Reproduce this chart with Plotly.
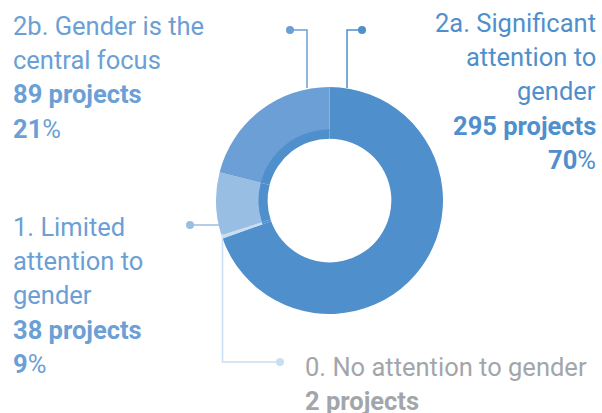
import plotly.graph_objects as go

# Gender marker categories, in drawing order (clockwise from 12 o'clock)
categories = [
    "2a. Significant attention to gender",
    "0. No attention to gender",
    "1. Limited attention to gender",
    "2b. Gender is the central focus",
]
projects = [295, 2, 38, 89]
percents = [70, 0, 9, 21]

W, H = 602, 413
MAIN = "#4f8fcc"
slice_colors = [MAIN, "#cadef2", "#98bee4", "#6b9fd5"]
FONT = "Roboto"
LINE_H = 34.2


def px(x):
    return x / W


def py(y):
    return 1 - y / H


# donut geometry in pixels
cx, cy = 329.5, 200.5
r_out, r_mid, r_in = 113.5, 70.0, 61.0


def domain(r):
    return dict(x=[px(cx - r), px(cx + r)], y=[py(cy + r), py(cy - r)])


fig = go.Figure()

fig.add_trace(go.Pie(
    labels=categories, values=projects,
    marker=dict(colors=slice_colors, line=dict(width=0)),
    hole=r_mid / r_out, domain=domain(r_out),
    direction="clockwise", rotation=0, sort=False,
    textinfo="none", showlegend=False,
    hovertemplate="%{label}<br>%{value} projects<extra></extra>",
))

# thin inner ring in the main colour
fig.add_trace(go.Pie(
    labels=categories, values=projects,
    marker=dict(colors=[MAIN] * len(projects), line=dict(width=0)),
    hole=r_in / r_mid, domain=domain(r_mid + 1),
    direction="clockwise", rotation=0, sort=False,
    textinfo="none", showlegend=False, hoverinfo="skip",
))

# leader lines: (points, dot position, colour)
leaders = [
    ([(290, 30), (307, 30), (307, 88)], (290, 30), "#6b9fd5"),
    ([(362, 30), (347, 30), (347, 88)], (362, 30), MAIN),
    ([(190, 225), (219, 225)], (190, 225), "#98bee4"),
    ([(222.5, 234), (222.5, 362), (280, 362)], (280, 362), "#cadef2"),
]

shapes = []
for pts, dot, col in leaders:
    path = "M " + " L ".join(f"{px(x)},{py(y)}" for x, y in pts)
    shapes.append(dict(type="path", xref="paper", yref="paper", path=path,
                       line=dict(color=col, width=1.5)))
    r = 4
    shapes.append(dict(type="circle", xref="paper", yref="paper",
                       x0=px(dot[0] - r), x1=px(dot[0] + r),
                       y0=py(dot[1] + r), y1=py(dot[1] - r),
                       fillcolor=col, line=dict(width=0)))

label_text = [
    "2a. Significant<br>attention to<br>gender<br><b>%d projects</b><br><b>%d</b>%%",
    "0. No attention to gender<br><b>%d projects</b>",
    "1. Limited<br>attention to<br>gender<br><b>%d projects</b><br><b>%d</b>%%",
    "2b. Gender is the<br>central focus<br><b>%d projects</b><br><b>%d</b>%%",
]
label_pos = [
    (598, 6, "right", MAIN),
    (303, 350, "left", "#a2a6ab"),
    (11, 210, "left", "#6b9fd5"),
    (11, 9, "left", "#6b9fd5"),
]

annotations = []
for i, (x, y, align, col) in enumerate(label_pos):
    if categories[i].startswith("0."):
        txt = label_text[i] % projects[i]
    else:
        txt = label_text[i] % (projects[i], percents[i])
    # one annotation per line so the line spacing can follow the original
    for k, line in enumerate(txt.split("<br>")):
        annotations.append(dict(
            x=px(x), y=py(y + k * LINE_H), xref="paper", yref="paper",
            xanchor=align, yanchor="top", align=align,
            text=line, showarrow=False,
            font=dict(family=FONT, size=25.5, color=col),
        ))

fig.update_layout(
    width=W, height=H,
    margin=dict(l=0, r=0, t=0, b=0),
    paper_bgcolor="white", plot_bgcolor="white",
    shapes=shapes, annotations=annotations,
    showlegend=False,
)

fig.write_html("out.html", config={"displayModeBar": False},
               post_script="document.body.style.margin='0';")
